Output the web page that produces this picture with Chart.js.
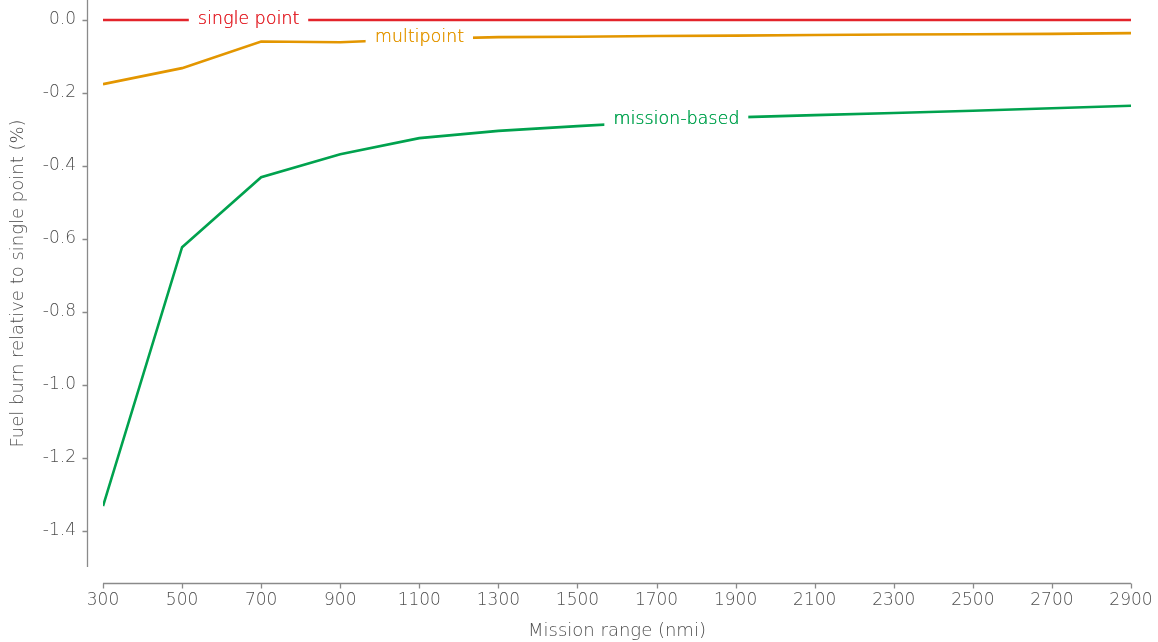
<!DOCTYPE html>
<html>
<head>
<meta charset="utf-8">
<script src="https://cdn.jsdelivr.net/npm/chart.js@4/dist/chart.umd.min.js"></script>
<style>
  html, body { margin: 0; padding: 0; background: #fff; }
  #wrap { width: 1158px; height: 642px; }
</style>
</head>
<body>
<div id="wrap"><canvas id="c" width="1158" height="642"></canvas></div>
<script>
// Mission range (nmi)
const ranges = [300, 500, 700, 900, 1100, 1300, 1500, 1700, 1900, 2100, 2300, 2500, 2700, 2900];

// Fuel burn relative to the single-point design (%)
const singlePoint  = [0, 0, 0, 0, 0, 0, 0, 0, 0, 0, 0, 0, 0, 0];
const multipoint   = [-0.176, -0.132, -0.059, -0.061, -0.052, -0.047, -0.046, -0.044, -0.043, -0.041, -0.040, -0.039, -0.038, -0.036];
const missionBased = [-1.333, -0.623, -0.431, -0.368, -0.324, -0.304, -0.291, -0.279, -0.267, -0.261, -0.255, -0.249, -0.242, -0.235];

const seriesNames  = ['single point', 'multipoint', 'mission-based'];
const seriesColors = ['#e3242b', '#e39600', '#00a24e'];
// range (nmi) at which each inline line label sits
const labelAt      = [668, 1100, 1750];

const xTicks = [300, 500, 700, 900, 1100, 1300, 1500, 1700, 1900, 2100, 2300, 2500, 2700, 2900];
const yTicks = [0, -0.2, -0.4, -0.6, -0.8, -1.0, -1.2, -1.4];

const FONT = '"DejaVu Sans", sans-serif';
const GREY = '#4e4e4e';
const AXIS = '#8a8a8a';
const SPINE_OFFSET = 16;

const toPoints = vals => vals.map((v, i) => ({ x: ranges[i], y: v }));
const seriesValues = [singlePoint, multipoint, missionBased];

// Detached spines with outward tick marks
const spinesPlugin = {
  id: 'spines',
  afterDraw(chart) {
    const { ctx, chartArea, scales } = chart;
    const xs = scales.x, ys = scales.y;
    ctx.save();
    ctx.strokeStyle = AXIS;
    ctx.lineWidth = 1.3;
    // y spine
    const yx = Math.round(chartArea.left - SPINE_OFFSET) + 0.5;
    ctx.beginPath();
    ctx.moveTo(yx, chartArea.top);
    ctx.lineTo(yx, chartArea.bottom);
    yTicks.forEach(v => {
      const py = Math.round(ys.getPixelForValue(v)) + 0.5;
      ctx.moveTo(yx - 5, py);
      ctx.lineTo(yx, py);
    });
    ctx.stroke();
    // x spine
    const xy = Math.round(chartArea.bottom + SPINE_OFFSET) + 0.5;
    ctx.beginPath();
    ctx.moveTo(xs.getPixelForValue(xTicks[0]), xy);
    ctx.lineTo(xs.getPixelForValue(xTicks[xTicks.length - 1]), xy);
    xTicks.forEach(v => {
      const px = Math.round(xs.getPixelForValue(v)) + 0.5;
      ctx.moveTo(px, xy);
      ctx.lineTo(px, xy + 5);
    });
    ctx.stroke();
    ctx.restore();
  }
};

// Series names written on the lines, with the line broken behind them
const inlineLabelsPlugin = {
  id: 'inlineLabels',
  afterDatasetsDraw(chart) {
    const { ctx, scales } = chart;
    ctx.save();
    ctx.font = '200 17.5px ' + FONT;
    ctx.textAlign = 'center';
    ctx.textBaseline = 'middle';
    seriesValues.forEach((vals, s) => {
      const xv = labelAt[s];
      let i = 0;
      while (i < ranges.length - 2 && ranges[i + 1] < xv) i++;
      const t = (xv - ranges[i]) / (ranges[i + 1] - ranges[i]);
      const yv = vals[i] + t * (vals[i + 1] - vals[i]);
      const px = scales.x.getPixelForValue(xv);
      const py = scales.y.getPixelForValue(yv);
      const w = ctx.measureText(seriesNames[s]).width;
      ctx.fillStyle = '#ffffff';
      ctx.fillRect(px - w / 2 - 9, py - 6, w + 18, 12);
      ctx.fillStyle = seriesColors[s];
      ctx.fillText(seriesNames[s], px, py - 1);
      // second pass gives the thin face a little more body
      ctx.fillText(seriesNames[s], px + 0.3, py - 1);
    });
    ctx.restore();
  }
};

new Chart(document.getElementById('c'), {
  type: 'line',
  data: {
    datasets: seriesValues.map((vals, s) => ({
      label: seriesNames[s],
      data: toPoints(vals),
      borderColor: seriesColors[s],
      backgroundColor: seriesColors[s],
      borderWidth: 2.6,
      pointRadius: 0,
      tension: 0,
      fill: false
    }))
  },
  options: {
    responsive: false,
    animation: false,
    devicePixelRatio: 1,
    layout: { padding: { left: 0, right: 27, top: 0, bottom: 0 } },
    plugins: { legend: { display: false }, tooltip: { enabled: false } },
    scales: {
      x: {
        type: 'linear',
        min: 300,
        max: 2900,
        border: { display: false },
        grid: { display: false, drawTicks: false },
        afterBuildTicks: sc => { sc.ticks = xTicks.map(v => ({ value: v })); },
        afterFit: sc => { sc.height = 75; sc.paddingLeft = 0; sc.paddingRight = 0; },
        ticks: {
          padding: 23,
          color: GREY,
          font: { family: FONT, size: 17, weight: 200 },
          maxRotation: 0,
          autoSkip: false,
          callback: v => String(v)
        },
        title: {
          display: true,
          text: 'Mission range (nmi)',
          color: GREY,
          font: { family: FONT, size: 18, weight: 200 },
          padding: { top: 0, bottom: 0 }
        }
      },
      y: {
        type: 'linear',
        min: -1.5,
        max: 0.0548,
        border: { display: false },
        grid: { display: false, drawTicks: false },
        afterBuildTicks: sc => { sc.ticks = yTicks.map(v => ({ value: v })); },
        afterFit: sc => { sc.width = 103; sc.paddingTop = 0; sc.paddingBottom = 0; },
        ticks: {
          padding: 27,
          color: GREY,
          font: { family: FONT, size: 17, weight: 200 },
          autoSkip: false,
          callback: v => (Math.abs(v) < 1e-9 ? '0.0' : v.toFixed(1))
        },
        title: {
          display: true,
          text: 'Fuel burn relative to single point (%)',
          color: GREY,
          font: { family: FONT, size: 18, weight: 200 },
          padding: { top: 8, bottom: 0 }
        }
      }
    }
  },
  plugins: [spinesPlugin, inlineLabelsPlugin]
});
</script>
</body>
</html>
